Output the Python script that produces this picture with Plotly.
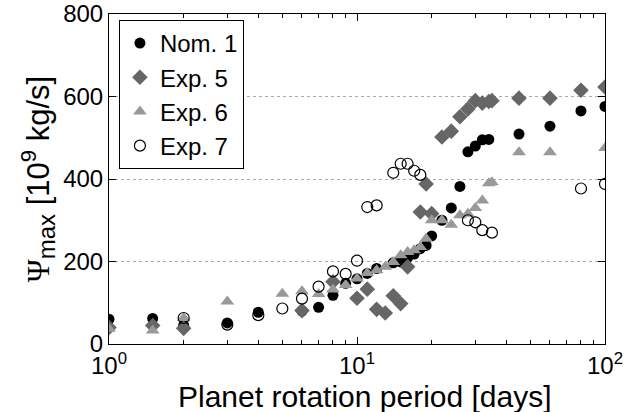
import plotly.graph_objects as go

# Nom. 1
nom1_P = [1, 1.5, 2, 3, 4, 6, 7, 8, 9, 10, 11, 12, 14, 15, 16, 17, 18, 19, 20, 22, 24, 26, 28, 30, 32, 34, 45, 60, 80, 100]
nom1_V = [60, 62, 45, 51, 77, 80, 89, 118, 147, 158, 171, 183, 197, 199, 210, 218, 231, 239, 262, 300, 330, 382, 466, 480, 495, 496, 509, 528, 565, 576]
# Exp. 5
exp5_P = [1, 1.5, 2, 6, 8, 10, 11, 12, 13, 14, 15, 16, 18, 19, 20, 22, 24, 26, 28, 30, 32, 34, 35, 45, 60, 80, 100]
exp5_V = [40, 45, 38, 81, 151, 111, 133, 84, 75, 117, 98, 187, 320, 388, 316, 502, 516, 551, 570, 590, 584, 588, 590, 596, 596, 615, 623]
# Exp. 6
exp6_P = [1, 1.5, 2, 3, 5, 6, 7, 8, 9, 10, 11, 12, 13, 14, 15, 16, 17, 18, 19, 20, 22, 24, 26, 28, 30, 32, 34, 35, 45, 60, 100]
exp6_V = [37, 33, 63, 103, 122, 128, 121, 132, 143, 159, 172, 179, 187, 199, 215, 223, 227, 235, 255, 300, 300, 289, 312, 316, 330, 348, 390, 392, 465, 465, 475]
# Exp. 7
exp7_P = [2, 3, 4, 5, 6, 7, 8, 9, 10, 11, 12, 14, 15, 16, 17, 18, 28, 30, 32, 35, 80, 100]
exp7_V = [63, 47, 70, 86, 110, 139, 176, 170, 202, 332, 336, 415, 437, 437, 420, 410, 300, 295, 276, 270, 377, 388]

x_tickvals = [1, 10, 100]
x_ticktext = ["10<sup>0</sup>", "10<sup>1</sup>", "10<sup>2</sup>"]
y_tickvals = [0, 200, 400, 600, 800]

FONT = "Liberation Sans, Arial, Helvetica, sans-serif"

fig = go.Figure()
fig.add_trace(go.Scatter(x=nom1_P, y=nom1_V, mode="markers", name="Nom. 1",
                         marker=dict(symbol="circle", size=11, color="black",
                                     line=dict(width=0))))
fig.add_trace(go.Scatter(x=exp5_P, y=exp5_V, mode="markers", name="Exp. 5",
                         marker=dict(symbol="diamond", size=12, color="#666666",
                                     line=dict(width=0))))
fig.add_trace(go.Scatter(x=exp6_P, y=exp6_V, mode="markers", name="Exp. 6",
                         marker=dict(symbol="triangle-up", size=12, color="#999999",
                                     line=dict(width=0))))
fig.add_trace(go.Scatter(x=exp7_P, y=exp7_V, mode="markers", name="Exp. 7",
                         marker=dict(symbol="circle", size=11, color="rgba(255,255,255,0)",
                                     line=dict(width=1.2, color="black"))))

ytitle = ("<span style=\"font-family:'Liberation Serif'\">Ψ</span>"
          "<sub><span style=\"font-size:24px\">max</span></sub>"
          " [10<sup><span style=\"font-size:22px\">9</span></sup> kg/s]")

fig.update_layout(
    width=642, height=412,
    margin=dict(l=109, r=37, t=14, b=68, autoexpand=False),
    paper_bgcolor="white", plot_bgcolor="white",
    font=dict(family=FONT, size=24, color="black"),
    showlegend=True,
    legend=dict(x=0.02, y=0.982, xanchor="left", yanchor="top",
                bordercolor="black", borderwidth=1, bgcolor="white",
                font=dict(size=24, family=FONT), itemwidth=30,
                tracegroupgap=0),
    xaxis=dict(type="log", range=[0, 2], tickvals=x_tickvals, ticktext=x_ticktext,
               ticks="inside", ticklen=7, tickcolor="black",
               showline=True, linecolor="black", linewidth=1, mirror="ticks",
               showgrid=False, zeroline=False, automargin=False,
               tickfont=dict(size=24),
               minor=dict(ticks="inside", ticklen=4, tickcolor="black", dtick="D1",
                          showgrid=False)),
    yaxis=dict(range=[0, 800], tickvals=y_tickvals,
               ticks="inside", ticklen=7, tickcolor="black",
               showline=True, linecolor="black", linewidth=1, mirror="ticks",
               showgrid=True, gridcolor="#aaaaaa", griddash="dot", gridwidth=1,
               zeroline=False, tickfont=dict(size=24), automargin=False,
               title=dict(text=ytitle, standoff=4, font=dict(size=31))),
    annotations=[dict(text="Planet rotation period [days]", xref="paper", yref="paper",
                      x=0.5, y=-0.158, xanchor="center", yanchor="middle",
                      xshift=8, showarrow=False, font=dict(size=30))],
)

fig.write_html("out.html")
